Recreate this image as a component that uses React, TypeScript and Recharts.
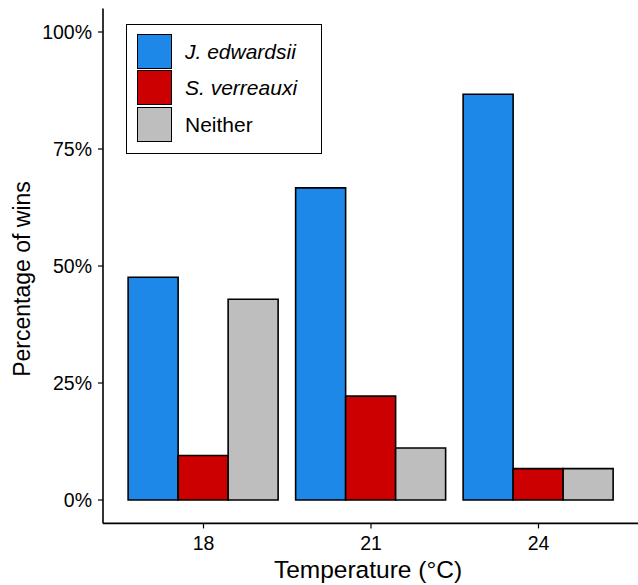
import { BarChart, Bar, XAxis, YAxis, Legend, Label } from 'recharts';

const temperatures = ['18', '21', '24'];
const jEdwardsii = [47.6, 66.7, 86.7];
const sVerreauxi = [9.5, 22.2, 6.7];
const neither = [42.9, 11.1, 6.7];
const yTicks = [0, 25, 50, 75, 100];

const series = [
  { key: 'jEdwardsii', name: 'J. edwardsii', color: '#1E88E8', italic: true },
  { key: 'sVerreauxi', name: 'S. verreauxi', color: '#CC0000', italic: true },
  { key: 'neither', name: 'Neither', color: '#BEBEBE', italic: false },
];

const data = temperatures.map((t, i) => ({
  temp: t,
  jEdwardsii: jEdwardsii[i],
  sVerreauxi: sVerreauxi[i],
  neither: neither[i],
}));

const font = '"Liberation Sans", Arial, Helvetica, sans-serif';

const renderLegend = () => (
  <div
    style={{
      position: 'relative',
      width: 196,
      height: 130,
      border: '1.3px solid #000',
      boxSizing: 'border-box',
      background: '#fff',
      fontFamily: font,
    }}
  >
    {series.map((s, i) => (
      <div key={s.key}>
        <div
          style={{
            position: 'absolute',
            left: 10,
            top: 9 + i * 36.8,
            width: 35,
            height: 35,
            background: s.color,
            border: '1.6px solid #000',
            boxSizing: 'border-box',
          }}
        />
        <div
          style={{
            position: 'absolute',
            left: 58,
            top: 9 + i * 36.8,
            height: 35,
            lineHeight: '35px',
            fontSize: 21,
            fontStyle: s.italic ? 'italic' : 'normal',
            color: '#000',
            whiteSpace: 'nowrap',
          }}
        >
          {s.name}
        </div>
      </div>
    ))}
  </div>
);

export default function App() {
  return (
    <div style={{ position: 'absolute', left: 0, top: 0, width: 638, height: 585, overflow: 'hidden', background: '#fff' }}>
      <BarChart
        width={640}
        height={585}
        data={data}
        margin={{ top: 8.6, right: 1, bottom: 0, left: 0 }}
        barCategoryGap="5%"
        barGap={0}
        style={{ fontFamily: font }}
      >
        <XAxis
          xAxisId="top"
          dataKey="temp"
          orientation="top"
          height={0}
          tick={false}
          tickLine={false}
          axisLine={{ stroke: '#000', strokeWidth: 1.6 }}
        />
        <XAxis
          dataKey="temp"
          height={61.6}
          padding={{ left: 16.75, right: 16.75 }}
          tickSize={5}
          tickMargin={8}
          tick={{ fill: '#000', fontSize: 19.5, fontFamily: font }}
          tickLine={{ stroke: '#000', strokeWidth: 1.2 }}
          axisLine={{ stroke: '#000', strokeWidth: 1.6 }}
        >
          <Label
            content={({ viewBox }: any) => (
              <text
                x={viewBox.x + viewBox.width / 2 - 3}
                y={viewBox.y + 55}
                textAnchor="middle"
                fontSize={24.5}
                fontFamily={font}
                fill="#000"
              >
                Temperature (°C)
              </text>
            )}
          />
        </XAxis>
        <YAxis
          width={103}
          type="number"
          domain={[-5, 105]}
          ticks={yTicks}
          allowDataOverflow
          tickFormatter={(v: number) => `${v}%`}
          tickSize={5}
          tickMargin={6}
          tick={{ fill: '#000', fontSize: 19.5, fontFamily: font }}
          tickLine={{ stroke: '#000', strokeWidth: 1.2 }}
          axisLine={{ stroke: '#000', strokeWidth: 1.6 }}
        >
          <Label
            content={({ viewBox }: any) => {
              const cx = 30;
              const cy = viewBox.y + viewBox.height / 2 + 13;
              return (
                <text
                  x={cx}
                  y={cy}
                  transform={`rotate(-90, ${cx}, ${cy})`}
                  textAnchor="middle"
                  fontSize={23}
                  fontFamily={font}
                  fill="#000"
                >
                  Percentage of wins
                </text>
              );
            }}
          />
        </YAxis>
        <Legend
          layout="vertical"
          align="center"
          verticalAlign="middle"
          content={renderLegend}
          wrapperStyle={{ left: 126, top: 23.5, width: 196, height: 130 }}
        />
        {series.map((s) => (
          <Bar
            key={s.key}
            dataKey={s.key}
            name={s.name}
            fill={s.color}
            stroke="#000"
            strokeWidth={1.6}
            isAnimationActive={false}
          />
        ))}
      </BarChart>
    </div>
  );
}
